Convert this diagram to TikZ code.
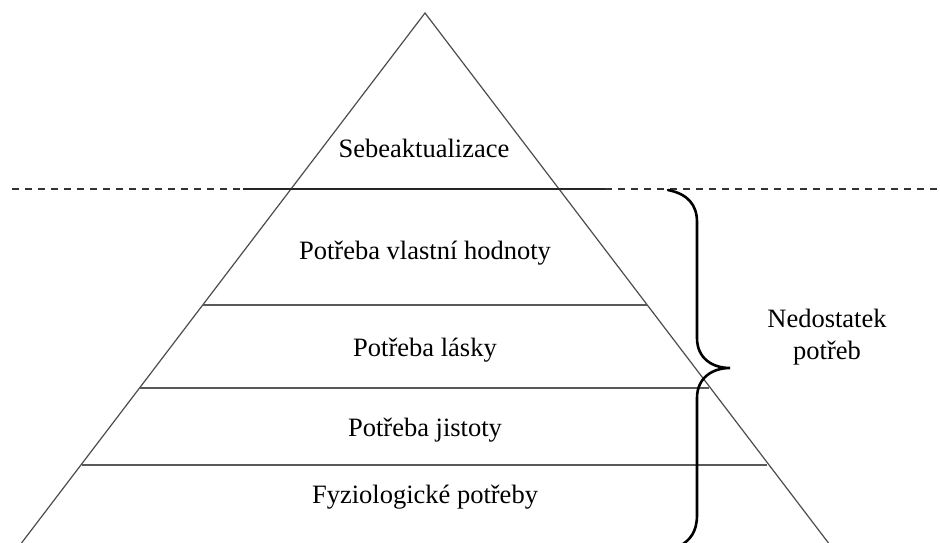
\documentclass[tikz,border=0pt]{standalone}
\usepackage{fontspec}
\setmainfont{Liberation Serif}
\begin{document}
\begin{tikzpicture}[x=1pt,y=-1pt,
  edge/.style={draw=black!70,line width=1.2pt},
  level/.style={draw=black!65,line width=1.8pt},
  dash line/.style={draw=black!80,line width=1.4pt,dash pattern=on 7pt off 6pt},
  bracepath/.style={draw=black,line width=2.6pt,line cap=round},
  lbl/.style={font=\fontsize{26.5}{32}\selectfont,anchor=base,inner sep=0pt}]
\useasboundingbox (0,0) rectangle (940,542);
\clip (0,0) rectangle (940,542);
% triangle
\coordinate (apex) at (425,13);
\coordinate (bl) at (20,545);
\coordinate (br) at (830,545);
\draw[edge] (bl) -- (apex) -- (br);
% top divider
\coordinate (d0) at (12,189);
\coordinate (d1) at (243,189);
\coordinate (d2) at (605,189);
\coordinate (d3) at (940,189);
\draw[dash line] (d0) -- (d1);
\draw[dash line] (d2) -- (d3);
\draw[draw=black!85,line width=1.8pt] (d1) -- (d2);
% levels
\draw[level] (203,305) -- (647,305);
\draw[level] (140,388) -- (709,388);
\draw[level] (82,465) -- (767,465);
% labels
\node[lbl] (s) at (424,157) {Sebeaktualizace};
\node[lbl] (v) at (425,259) {Potřeba vlastní hodnoty};
\node[lbl] (l) at (425,356) {Potřeba lásky};
\node[lbl] (j) at (425,436) {Potřeba jistoty};
\node[lbl] (f) at (425,503) {Fyziologické potřeby};
% brace
\draw[bracepath] (668,190) .. controls (688,194) and (697,205) .. (697,222)
  -- (697,338) .. controls (697,358) and (712,368) .. (730,368)
  .. controls (712,368) and (697,378) .. (697,398)
  -- (697,515) .. controls (697,532) and (690,540) .. (680,546);
\node[lbl,align=center,anchor=base] (n) at (827,359) {Nedostatek\\potřeb};
\end{tikzpicture}
\end{document}
